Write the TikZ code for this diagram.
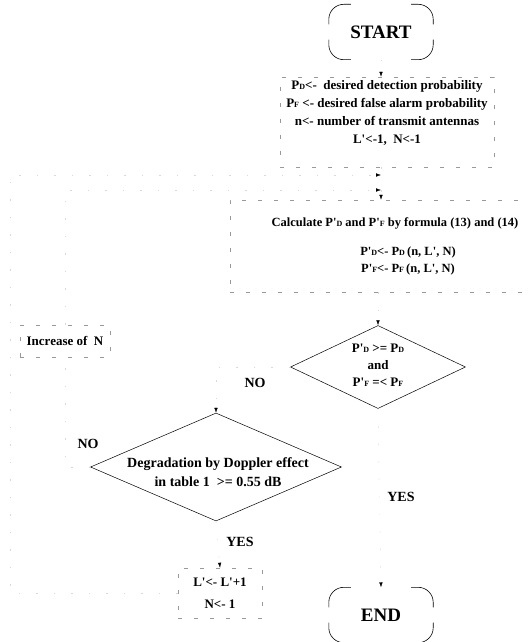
\documentclass[tikz,border=0pt]{standalone}
\usepackage{fontspec}
\setmainfont{Liberation Serif}
\usetikzlibrary{shapes,arrows,arrows.meta}
\usetikzlibrary{positioning}
\newcommand{\sm}[1]{{\fontsize{8}{9}\selectfont #1}}
\newcommand{\pr}{\textquotesingle}

\begin{document}
\begin{tikzpicture}[x=1pt,y=-1pt,font=\bfseries\fontsize{13}{15}\selectfont,
    every node/.style={inner sep=0pt},
    term/.style={minimum width=104pt,minimum height=55pt,font=\bfseries\fontsize{19}{21}\selectfont},
    corner/.style={rounded corners=15pt,line width=.6pt},
    proc/.style={draw=black!40,line width=.5pt,dash pattern=on 4pt off 12pt,align=center},
    decision/.style={draw,diamond,line width=.5pt},
    lbl/.style={font=\bfseries\fontsize{14}{16}\selectfont},
    wire/.style={draw=black!15,line width=.4pt,dash pattern=on 1.5pt off 16pt},
    tip/.style={-{Latex[black,length=5pt,width=3.5pt]}}]
    \useasboundingbox (0,0) rectangle (529,642);

    % terminals
    \node[term] (start) at (381,32) {START};
    \node[term] (stop) at (381,615) {END};
    \foreach \t in {start,stop}{
        \draw[corner] ([yshift=-20pt]\t.north west) |- ([xshift=22pt]\t.north west);
        \draw[corner] ([yshift=-20pt]\t.north east) |- ([xshift=-22pt]\t.north east);
        \draw[corner] ([yshift=20pt]\t.south west) |- ([xshift=22pt]\t.south west);
        \draw[corner] ([yshift=20pt]\t.south east) |- ([xshift=-22pt]\t.south east);
    }

    % process boxes
    \node[proc,minimum width=214pt,minimum height=90pt] (init) at (387,122)
        {P\sm{D}<- \ desired detection probability\\[3pt]
         P\sm{F} <- desired false alarm probability\\[3pt]
         n<- number of transmit antennas\\[3pt]
         L\pr<-1, \ N<-1\\[5pt]\mbox{}};
    \node[proc,minimum width=330pt,minimum height=92pt,font=\bfseries\fontsize{12.5}{14}\selectfont] (calc) at (395,246)
        {Calculate P\pr\sm{D} and P\pr\sm{F} by formula (13) and (14)\\[15pt]
         \hspace*{26pt}P\pr\sm{D}<- P\sm{D}\,(n, L\pr, N)\\[3pt]
         \hspace*{26pt}P\pr\sm{F}<- P\sm{F}\,(n, L\pr, N)};
    \node[proc,minimum width=90pt,minimum height=32pt] (inc) at (65,341) {Increase of \ N};
    \node[proc,minimum width=84pt,minimum height=50pt] (upd) at (220,593)
        {L\pr<- L\pr+1\\[7pt] N<- 1};

    % decisions
    \node[decision,minimum width=175pt,minimum height=83pt] (dec1) at (378,367) {};
    \node[align=center] (dec1txt) at (378,365)
        {P\pr\sm{D} >= P\sm{D}\\[2pt] and\\[2pt] P\pr\sm{F} =< P\sm{F}};
    \node[decision,minimum width=251pt,minimum height=108pt] (dec2) at (216,467) {};
    \node[align=center,font=\bfseries\fontsize{14}{16}\selectfont] (dec2txt) at (218,472)
        {Degradation by Doppler effect\\[3pt] in table 1 \ >= 0.55 dB};

    % labels
    \node[lbl] (no1) at (255,383) {NO};
    \node[lbl] (no2) at (88,444) {NO};
    \node[lbl] (yes1) at (401,497) {YES};
    \node[lbl] (yes2) at (240,542) {YES};

    % loop ends
    \coordinate (m1) at (381,175);
    \coordinate (m2) at (381,190);
    \coordinate (lft) at (10,175);

    % connectors
    \draw[wire,tip] (start) -- (start |- init.north);
    \draw[wire] (init.south -| m1) -- (m1);
    \draw[wire,tip] (m2) -- (calc.north -| m2);
    \draw[wire,tip] (inc.north) |- (m2);
    \draw[wire,tip] (upd.west) -| (lft) -- (m1);
    \draw[wire,tip] (calc.south -| dec1) -- (dec1.north);
    \draw[wire,tip] (dec1.west) -| (dec2.north);
    \draw[wire] (dec2.west) -| (inc.south);
    \draw[wire,tip] (dec2.south) -- (upd.north);
    \draw[wire,tip] (dec1.south) -- (stop.north);
\end{tikzpicture}
\end{document}
